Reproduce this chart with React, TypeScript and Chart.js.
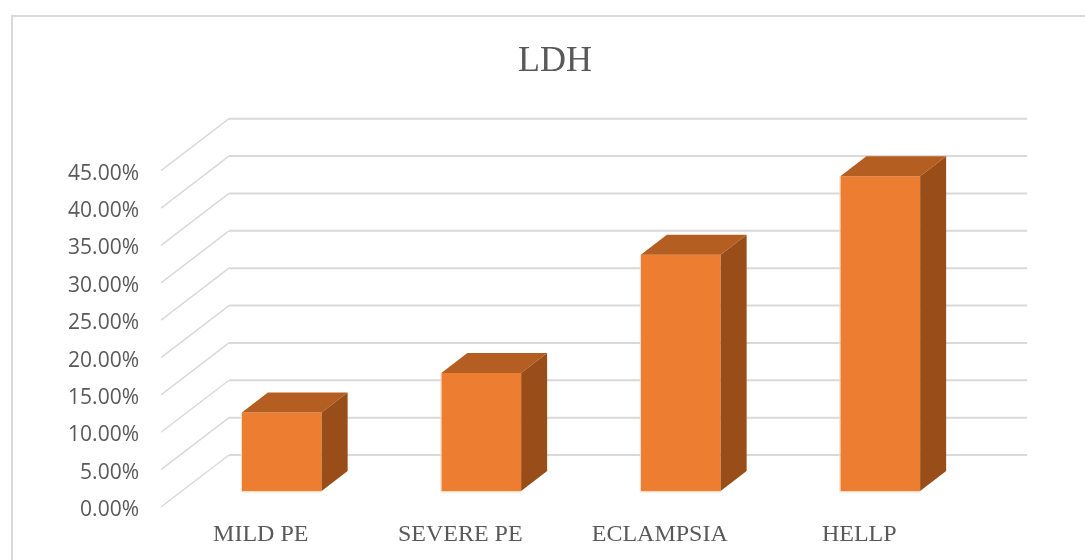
import React, { useEffect, useRef } from "react";
import { Chart, registerables } from "chart.js";

Chart.register(...registerables);

const categories = ["MILD PE", "SEVERE PE", "ECLAMPSIA", "HELLP"];
const ldhPercent = [10.5, 15.8, 31.6, 42.1];
const axisMax = 45;
const axisStep = 5;

const GRID = "#D9D9D9";
const TEXT = "#595959";
const FRONT = "#ED7D31";
const TOP = "#B55E21";
const SIDE = "#994E1A";
const HALO = "#FBDCC6";

// Depth of the floor and walls, and of the boxes standing on the floor.
const WALL_DX = 68;
const WALL_DY = -52;
const BAR_INSET_DX = 21;
const BAR_INSET_DY = -16;
const BOX_DX = 26;
const BOX_DY = -20;

const perspective = {
  id: "perspective",
  beforeDraw(chart: any) {
    const { ctx } = chart;
    ctx.save();
    ctx.strokeStyle = GRID;
    ctx.lineWidth = 2;
    ctx.beginPath();
    ctx.moveTo(12, 560);
    ctx.lineTo(12, 16);
    ctx.lineTo(chart.width, 16);
    ctx.stroke();
    ctx.restore();
  },
  beforeDatasetsDraw(chart: any) {
    const { ctx, chartArea, scales } = chart;
    ctx.save();
    ctx.strokeStyle = GRID;
    for (const tick of scales.y.ticks) {
      const y = scales.y.getPixelForValue(tick.value);
      ctx.lineWidth = 1.5;
      ctx.beginPath();
      ctx.moveTo(chartArea.left, y);
      ctx.lineTo(chartArea.left + WALL_DX, y + WALL_DY);
      ctx.stroke();
      ctx.lineWidth = 2;
      ctx.beginPath();
      ctx.moveTo(chartArea.left + WALL_DX, y + WALL_DY);
      ctx.lineTo(chartArea.right + WALL_DX, y + WALL_DY);
      ctx.stroke();
    }
    ctx.restore();
    // Bars stand part-way back on the floor.
    ctx.save();
    ctx.translate(BAR_INSET_DX, BAR_INSET_DY);
  },
  afterDatasetsDraw(chart: any) {
    const { ctx } = chart;
    ctx.restore();
    ctx.save();
    for (const bar of chart.getDatasetMeta(0).data) {
      const left = bar.x - bar.width / 2 + BAR_INSET_DX;
      const right = bar.x + bar.width / 2 + BAR_INSET_DX;
      const top = bar.y + BAR_INSET_DY;
      const base = bar.base + BAR_INSET_DY;

      ctx.fillStyle = HALO;
      ctx.fillRect(left, base, right - left, 1.5);
      ctx.fillRect(left - 1, top, 1, base - top + 1.5);

      ctx.fillStyle = TOP;
      ctx.beginPath();
      ctx.moveTo(left, top);
      ctx.lineTo(left + BOX_DX, top + BOX_DY);
      ctx.lineTo(right + BOX_DX, top + BOX_DY);
      ctx.lineTo(right, top);
      ctx.closePath();
      ctx.fill();

      ctx.fillStyle = SIDE;
      ctx.beginPath();
      ctx.moveTo(right, top);
      ctx.lineTo(right + BOX_DX, top + BOX_DY);
      ctx.lineTo(right + BOX_DX, base + BOX_DY);
      ctx.lineTo(right, base);
      ctx.closePath();
      ctx.fill();
    }
    ctx.restore();
  },
};

export default function App() {
  const ref = useRef<HTMLCanvasElement>(null);

  useEffect(() => {
    const chart = new Chart(ref.current!, {
      type: "bar",
      data: {
        labels: categories,
        datasets: [
          {
            data: ldhPercent,
            backgroundColor: FRONT,
            barPercentage: 0.4,
            categoryPercentage: 1,
          },
        ],
      },
      options: {
        responsive: false,
        animation: false,
        // The left inset centres the title over the wall rather than the canvas.
        layout: { padding: { left: 25, right: 0, top: 0, bottom: 0 } },
        plugins: {
          legend: { display: false },
          tooltip: { enabled: false },
          title: {
            display: true,
            text: "LDH",
            color: TEXT,
            font: { family: "Liberation Serif", size: 36, weight: "normal" },
            padding: { top: 40, bottom: 87.5 },
          },
        },
        scales: {
          x: {
            grid: { display: false, drawTicks: false },
            border: { display: false },
            ticks: {
              color: TEXT,
              font: { family: "Liberation Serif", size: 24 },
              padding: 13.5,
              maxRotation: 0,
              autoSkip: false,
            },
            afterFit(scale: any) {
              scale.height = 53;
            },
          },
          y: {
            min: 0,
            max: axisMax,
            grid: { display: false, drawTicks: false },
            border: { display: false },
            ticks: {
              stepSize: axisStep,
              color: TEXT,
              // A blank leading line nudges each label just below its tick.
              font: { family: "Open Sans", size: 21, lineHeight: "6px" },
              padding: 22,
              callback: (value: any) => ["", Number(value).toFixed(2) + "%"],
            },
            afterFit(scale: any) {
              scale.width = 136;
            },
          },
          // Empty right-hand axis: keeps room for the depth of the side wall.
          depth: {
            type: "linear",
            position: "right",
            grid: { display: false, drawTicks: false },
            border: { display: false },
            ticks: { display: false },
            afterFit(scale: any) {
              scale.width = 126;
            },
          },
        },
      },
      plugins: [perspective],
    });
    return () => chart.destroy();
  }, []);

  return (
    <canvas
      ref={ref}
      width={1085}
      height={560}
      style={{ display: "block", position: "fixed", left: 0, top: 0, background: "#fff" }}
    />
  );
}
